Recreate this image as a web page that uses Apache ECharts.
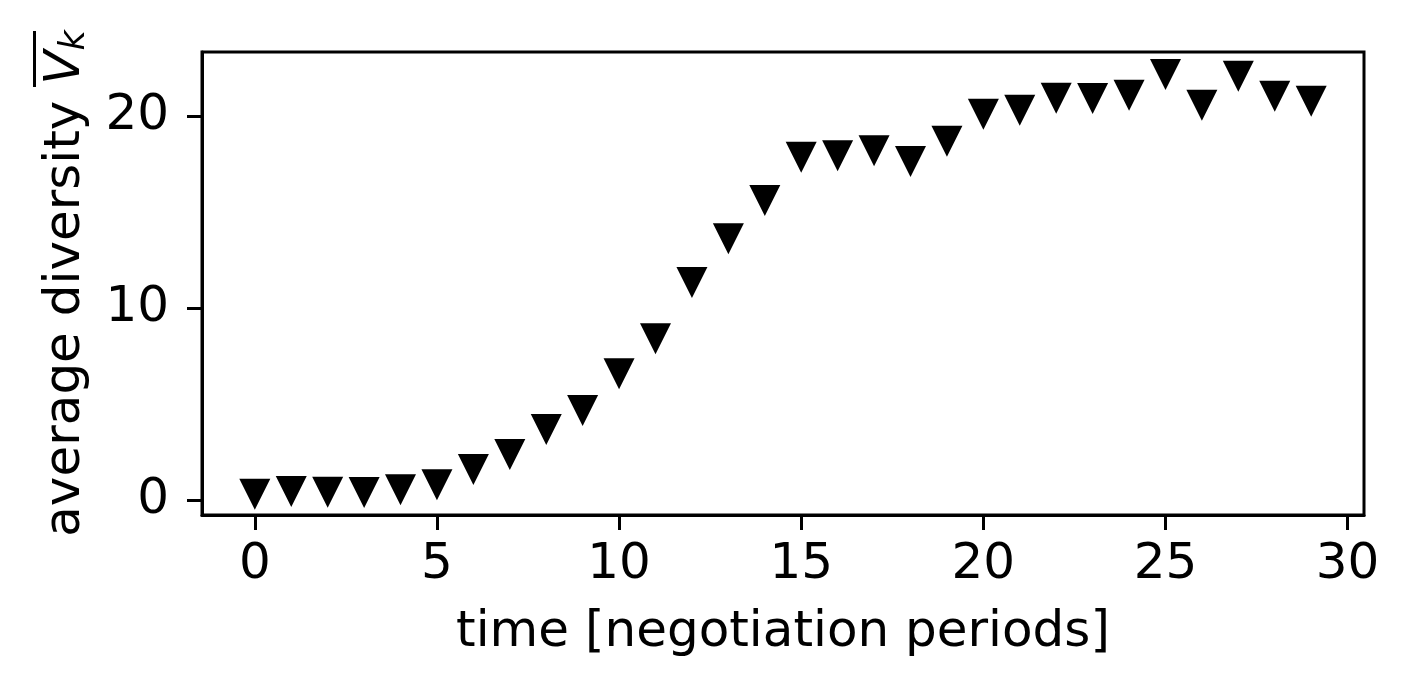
<!DOCTYPE html>
<html>
<head>
<meta charset="utf-8">
<script src="https://cdn.jsdelivr.net/npm/echarts@6/dist/echarts.min.js"></script>
<style>
html,body{margin:0;padding:0;background:#fff;}
#chart{width:1409px;height:687px;}
</style>
</head>
<body>
<div id="chart"></div>
<script>
// ---- data ----
const time = [0,1,2,3,4,5,6,7,8,9,10,11,12,13,14,15,16,17,18,19,20,21,22,23,24,25,26,27,28,29];
const diversity = [0.30,0.45,0.40,0.39,0.54,0.80,1.59,2.37,3.67,4.66,6.58,8.40,11.33,13.61,15.60,17.85,17.93,18.19,17.63,18.68,20.09,20.30,20.92,20.91,21.08,22.16,20.56,22.07,21.03,20.76];
const xTicks = [0,5,10,15,20,25,30];
const yTicks = [0,10,20];
const xLabel = 'time [negotiation periods]';
const yLabel = 'average diversity ';

const font = 'DejaVu Sans';
const fs = 50;

const chart = echarts.init(document.getElementById('chart'), null, {renderer:'canvas'});
chart.setOption({
  animation:false,
  backgroundColor:'#ffffff',
  grid:{left:202,right:45,top:52,bottom:172,show:true,borderColor:'#000',borderWidth:3,
        containLabel:false,outerBoundsMode:'none'},
  xAxis:{
    type:'value',min:-1.45,max:30.45,
    name:xLabel,nameLocation:'middle',nameGap:93,
    nameTextStyle:{fontFamily:font,fontSize:fs,color:'#000'},
    axisLine:{show:true,onZero:false,lineStyle:{color:'#000',width:3}},
    axisTick:{show:true,inside:false,length:15,lineStyle:{color:'#000',width:3},customValues:xTicks},
    axisLabel:{fontFamily:font,fontSize:fs,color:'#000',margin:25,customValues:xTicks},
    splitLine:{show:false}
  },
  yAxis:{
    type:'value',min:-0.78,max:23.33,
    name:yLabel+'{v|V}{k|k}',nameLocation:'middle',nameGap:110,nameRotate:90,
    nameTextStyle:{fontFamily:font,fontSize:fs,color:'#000',lineHeight:51,
      rich:{
        v:{fontFamily:font,fontSize:fs,fontStyle:'italic',color:'#000',lineHeight:51},
        k:{fontFamily:font,fontSize:35,fontStyle:'italic',color:'#000',verticalAlign:'bottom',lineHeight:14}
      }},
    axisLine:{show:true,onZero:false,lineStyle:{color:'#000',width:3}},
    axisTick:{show:true,inside:false,length:15,lineStyle:{color:'#000',width:3},customValues:yTicks},
    axisLabel:{fontFamily:font,fontSize:fs,color:'#000',margin:33,customValues:yTicks},
    splitLine:{show:false}
  },
  graphic:[{type:'rect',left:33,top:31,shape:{width:3,height:56},style:{fill:'#000'}}],
  series:[{
    type:'scatter',
    data:time.map((t,i)=>[t,diversity[i]]),
    symbol:'path://M0,0 L2,0 L1,2 Z',
    symbolSize:[31,31],
    itemStyle:{color:'#000',opacity:1},
    z:3
  }]
});
</script>
</body>
</html>
